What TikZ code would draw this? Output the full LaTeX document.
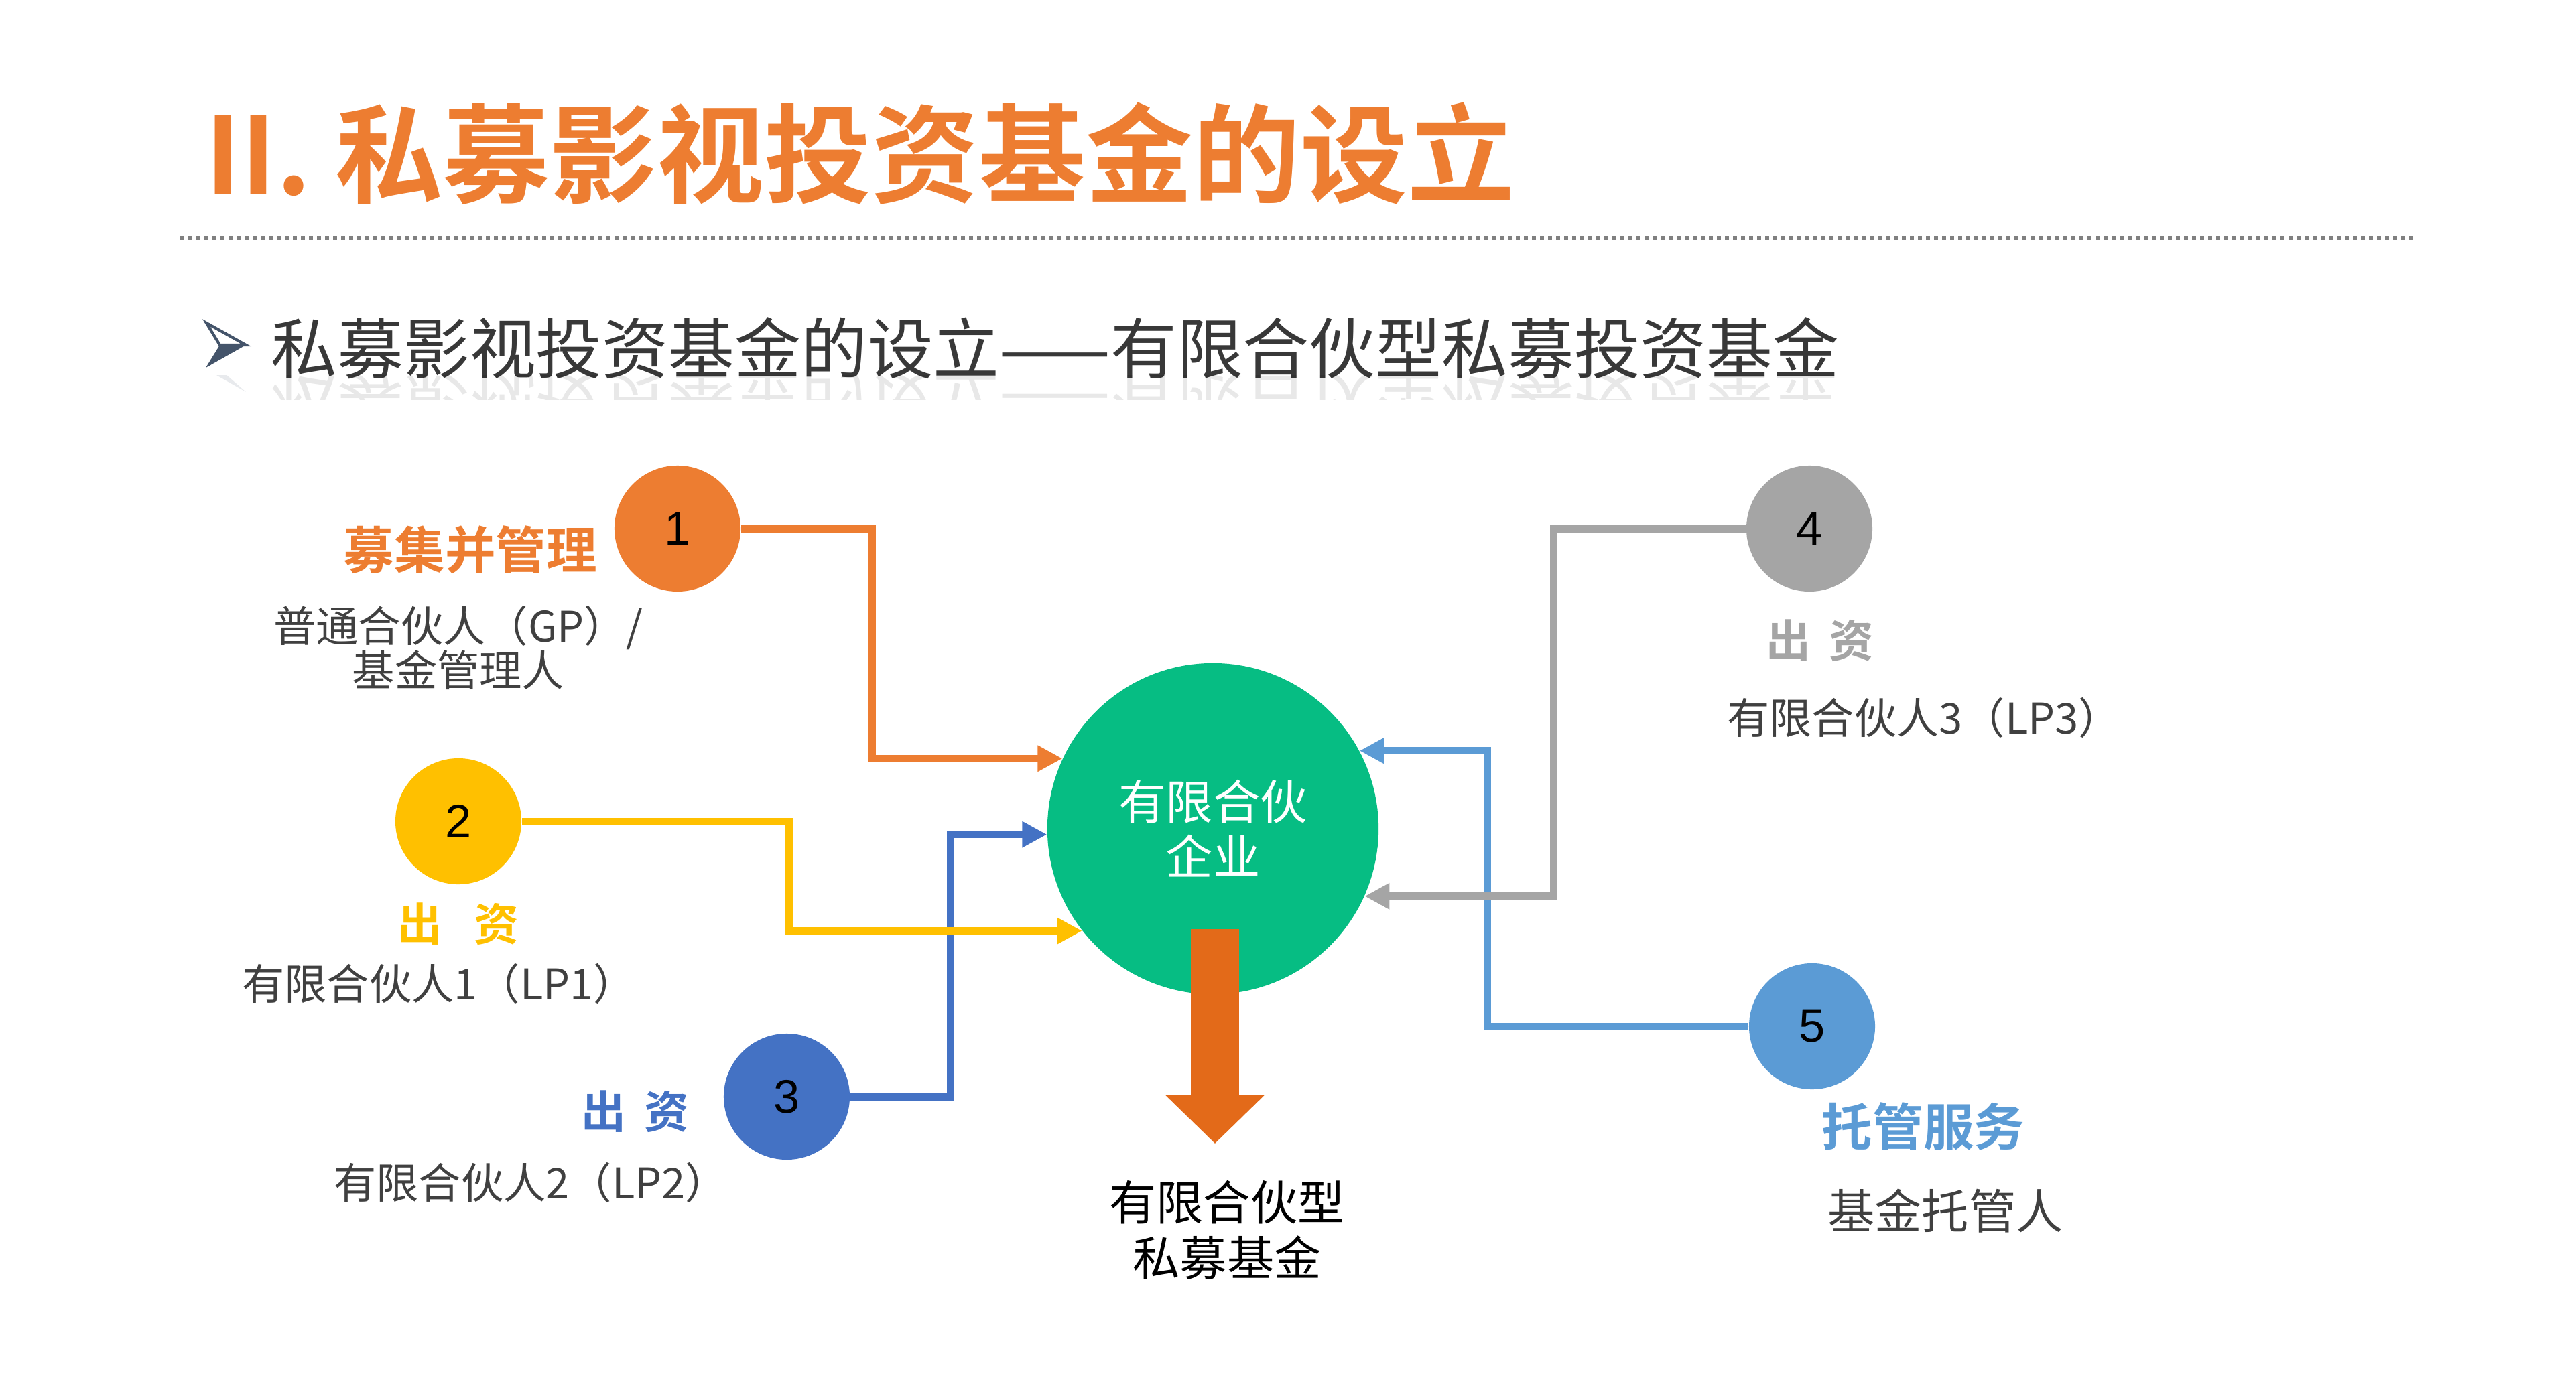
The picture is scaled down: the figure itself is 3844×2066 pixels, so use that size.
\documentclass[tikz,border=0pt]{standalone}
\usepackage{fontspec}
\setmainfont{Noto Sans CJK SC}[BoldFont={Noto Sans CJK SC Bold}]
\newfontfamily\numfont{Liberation Sans}
\usetikzlibrary{arrows.meta,calc}

\tikzset{
  dot/.style={circle, inner sep=0pt, minimum size=1.88cm,
    font=\numfont\fontsize{20}{24}\selectfont},
  link/.style={line width=0.11cm, draw=#1,
    -{Triangle[length=0.37cm,width=0.37cm]}},
  tag/.style={inner sep=0pt, text=#1,
    font=\bfseries\fontsize{21.5}{26}\selectfont},
  smalltag/.style={inner sep=0pt, text=#1,
    font=\bfseries\fontsize{19}{23}\selectfont},
  who/.style={inner sep=0pt, text=mygray, align=center,
    font=\fontsize{18}{19}\selectfont},
  bigarrow/.style={line width=0.71cm, draw=myrust,
    -{Triangle[length=0.72cm,width=1.43cm]}},
}

\begin{document}
\begin{tikzpicture}[x=0.01cm,y=-0.01cm]

\definecolor{myorange}{HTML}{ED7D31}
\definecolor{myyellow}{HTML}{FFC000}
\definecolor{myblue}{HTML}{4472C4}
\definecolor{mygrey}{HTML}{A5A5A5}
\definecolor{mysky}{HTML}{5B9BD5}
\definecolor{mygreen}{HTML}{06BD83}
\definecolor{myrust}{HTML}{E36A19}
\definecolor{mygray}{HTML}{404040}
\definecolor{myslate}{HTML}{44546A}

\useasboundingbox (0,0) rectangle (3844,2066);

% title and rule
\node[anchor=west, inner sep=0pt, text=myorange,
  font=\bfseries\fontsize{45.5}{50}\selectfont] (title) at (306,229)
  {II. 私募影视投资基金的设立};
\draw[line width=0.06cm, draw=black!50, dash pattern=on 0.06cm off 0.06cm]
  (269,355) -- (3604,355);

% subtitle with its reflection
\draw[myslate, line width=1.2pt, fill=white, line join=miter]
  (308,482) -- (367,515) -- (328,515) -- cycle;
\fill[myslate] (328,515) -- (367,515) -- (307,549) -- cycle;
\node[anchor=west, inner sep=0pt, text=black!78,
  font=\fontsize{28.1}{32}\selectfont] (sub) at (404,520)
  {私募影视投资基金的设立——有限合伙型私募投资基金};
\begin{scope}
  \clip (290,560) rectangle (2780,596);
  \fill[myslate, opacity=0.12] (307,551) -- (367,585) -- (328,551) -- cycle;
  \node[anchor=west, inner sep=0pt, text=black, opacity=0.09,
    yscale=-1, transform shape,
    font=\fontsize{28.1}{32}\selectfont] (subref) at (404,601)
    {私募影视投资基金的设立——有限合伙型私募投资基金};
\end{scope}

% partners
\node[dot, fill=myorange] (c1) at (1011,789) {1};
\node[dot, fill=myyellow] (c2) at (684,1226) {2};
\node[dot, fill=myblue] (c3) at (1174,1637) {3};
\node[dot, fill=mygrey] (c4) at (2700,789) {4};
\node[dot, fill=mysky] (c5) at (2704,1532) {5};

% the partnership
\node[circle, fill=mygreen, minimum size=4.94cm, inner sep=0pt,
  text=white, align=center, font=\fontsize{20}{23.3}\selectfont]
  (fund) at (1810,1237) {有限合伙\\企业};

% labels
\node[tag=myorange] (t1) at (702,821) {募集并管理};
\node[who] (w1) at (684,967) {普通合伙人（GP）/\\基金管理人};
\node[smalltag=myyellow] (t2) at (684,1379) {出\hspace{0.7em}资};
\node[who] (w2) at (655,1468) {有限合伙人1（LP1）};
\node[smalltag=myblue] (t3) at (948,1659) {出\hspace{0.4em}资};
\node[who] (w3) at (792,1765) {有限合伙人2（LP2）};
\node[smalltag=mygrey] (t4) at (2716,956) {出\hspace{0.4em}资};
\node[who] (w4) at (2871,1071) {有限合伙人3（LP3）};
\node[tag=mysky] (t5) at (2870,1682) {托管服务};
\node[who, font=\fontsize{20}{24}\selectfont] (w5) at (2903,1807) {基金托管人};
\node[inner sep=0pt, align=center, font=\fontsize{20}{23.6}\selectfont]
  (lpfund) at (1831,1836) {有限合伙型\\私募基金};

% bends
\coordinate (b1) at (1301,960);
\coordinate (b2) at (1177,1300);
\coordinate (b3) at (1418,1400);
\coordinate (b4) at (2318,1000);
\coordinate (b5) at (2219,1300);
\coordinate (tip) at (1813,1707);

\draw[link=myblue] (c3.east) -| (b3) |- (fund.182);
\draw[link=myyellow] (c2.east) -| (b2) |- (fund.218);
\draw[link=myorange] (c1.east) -| (b1) |- (fund.155);
\draw[link=mysky] (c5.west) -| (b5) |- (fund.28);
\draw[link=mygrey] (c4.west) -| (b4) |- (fund.336);

\draw[bigarrow] ($(fund.center)+(3,150)$) -- (tip);

\end{tikzpicture}
\end{document}
